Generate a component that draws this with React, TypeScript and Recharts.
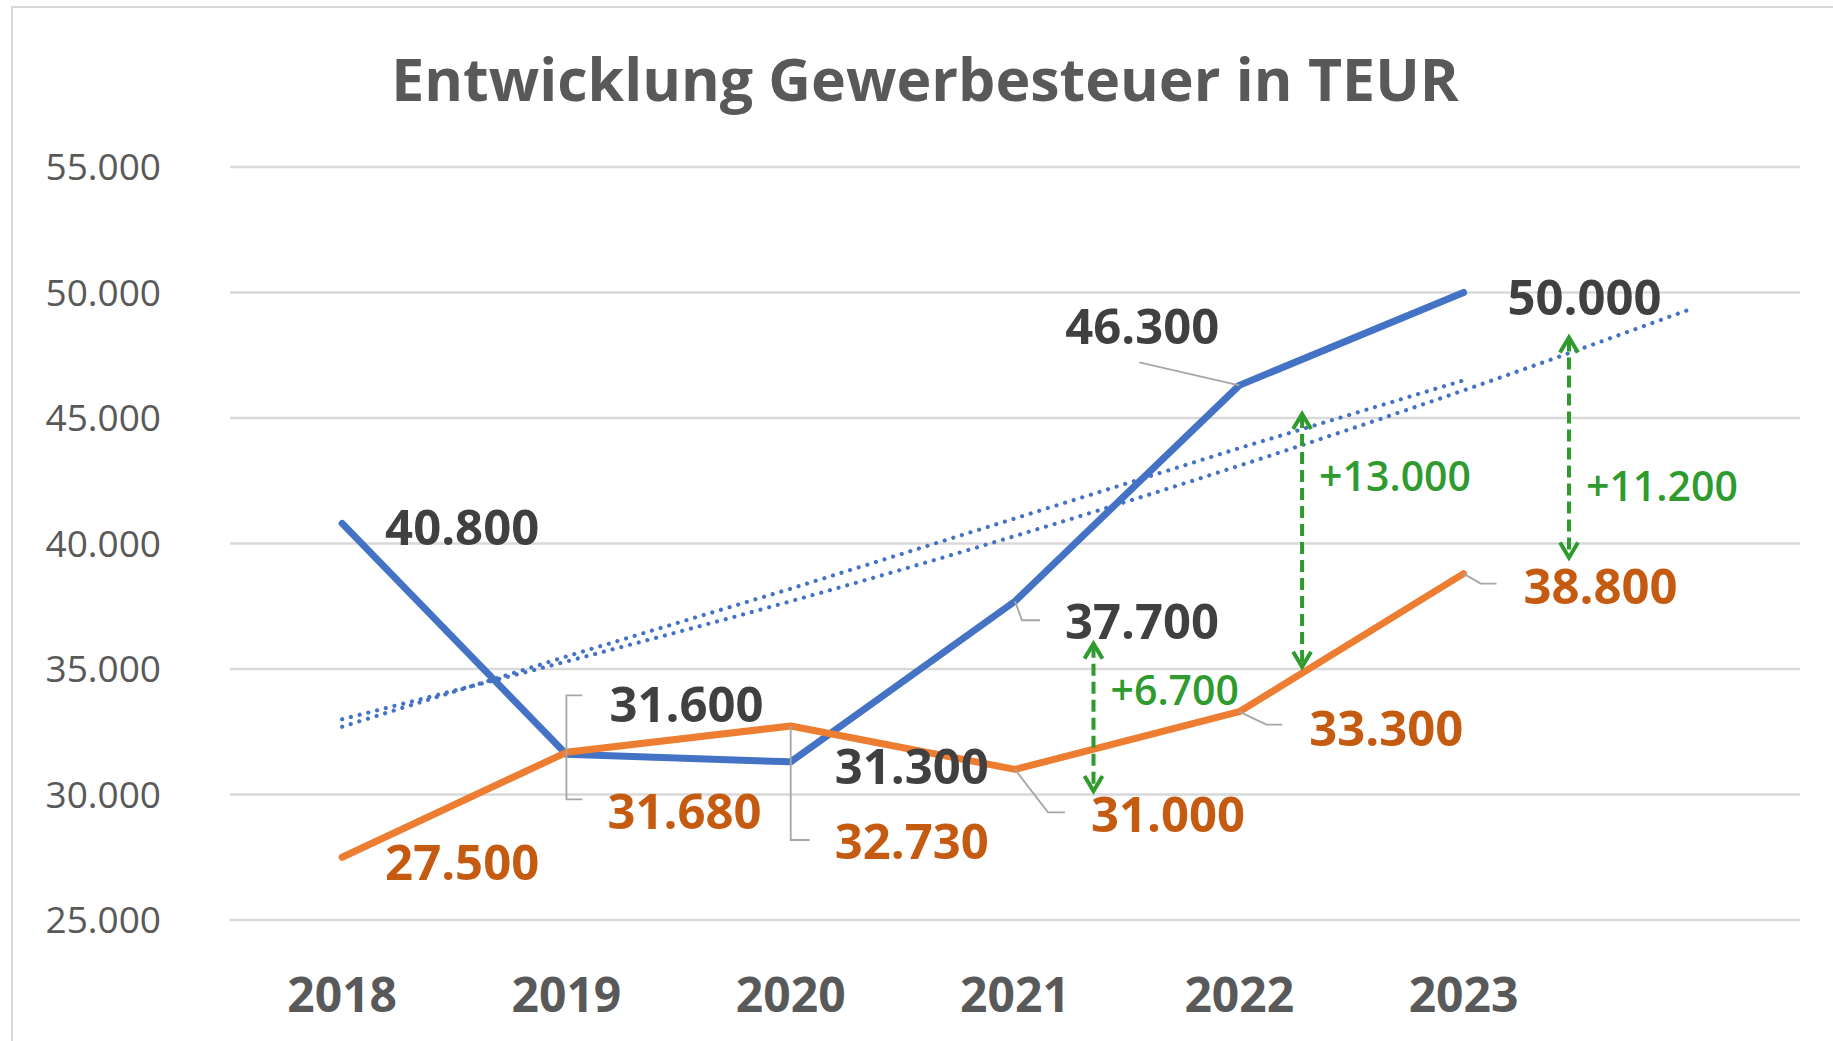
import {
	LineChart,
	Line,
	XAxis,
	YAxis,
	CartesianGrid,
	LabelList,
	ReferenceLine,
	ReferenceDot,
} from "recharts";

const years = ["2018", "2019", "2020", "2021", "2022", "2023", ""];
const istValues = [40800, 31600, 31300, 37700, 46300, 50000]; // blue
const planValues = [27500, 31680, 32730, 31000, 33300, 38800]; // orange
// trend lines (linear without forecast, exponential with one year forecast)
const linearTrend = [32700, 35500, 38200, 41000, 43800, 46500];
const expTrend = [33000, 35300, 37700, 40300, 43100, 46100, 49300];
const yTicks = [25000, 30000, 35000, 40000, 45000, 50000, 55000];

const diffArrows = [
	{ x: 3.35, top: 36050, bottom: 30100, text: "+6.700", labelY: 34150 },
	{ x: 4.28, top: 45200, bottom: 35050, text: "+13.000", labelY: 42700 },
	{ x: 5.47, top: 48250, bottom: 39400, text: "+11.200", labelY: 42300 },
];

const BLUE = "#4472C4";
const ORANGE = "#ED7D31";
const GREEN = "#2F9B2F";
const FONT = "'Open Sans', 'Noto Sans', sans-serif";

// label placement relative to the data point (px), leader = polyline points
type Pos = { dx: number; dy: number; leader?: number[][] };
const bluePos: Pos[] = [
	{ dx: 120, dy: 5 },
	{ dx: 120, dy: -49, leader: [[0, -59], [16, -59]] },
	{ dx: 121, dy: 5 },
	{ dx: 127, dy: 21, leader: [[7, 19], [25, 19]] },
	{ dx: -97, dy: -58, leader: [[-100, -23]] },
	{ dx: 121, dy: 5 },
];
const orangePos: Pos[] = [
	{ dx: 120, dy: 6 },
	{ dx: 118, dy: 60, leader: [[0, 47], [16, 47]] },
	{ dx: 121, dy: 116, leader: [[0, 114], [19, 114]] },
	{ dx: 153, dy: 46, leader: [[33, 43], [50, 43]] },
	{ dx: 147, dy: 17, leader: [[27, 13], [43, 13]] },
	{ dx: 137, dy: 13, leader: [[17, 10], [33, 10]] },
];

const fmt = (v: number) => Math.floor(v / 1000) + "." + String(v % 1000).padStart(3, "0");

const data = years.map((year, i) => ({
	x: i,
	year,
	ist: istValues[i] ?? null,
	plan: planValues[i] ?? null,
	lin: linearTrend[i] ?? null,
	exp: expTrend[i] ?? null,
}));

function makeLabel(pos: Pos[], color: string) {
	return (props: any) => {
		const vb = props.viewBox || {};
		const px = props.x ?? vb.x;
		const py = props.y ?? vb.y;
		const p = pos[props.index];
		if (!p || px == null || py == null || props.value == null) return null;
		return (
			<g>
				{p.leader && (
					<polyline
						points={[[0, 0], ...p.leader].map(([a, b]) => `${px + a},${py + b}`).join(" ")}
						fill="none"
						stroke="#A6A6A6"
						strokeWidth={1.8}
					/>
				)}
				<text
					x={px + p.dx}
					y={py + p.dy + 17}
					textAnchor="middle"
					fontSize={49}
					fontWeight={700}
					fontFamily={FONT}
					fill={color}
				>
					{fmt(Number(props.value))}
				</text>
			</g>
		);
	};
}

function ArrowShape(props: any) {
	const { x1, y1, x2, y2 } = props;
	if (x1 == null) return null;
	const top = Math.min(y1, y2);
	const bot = Math.max(y1, y2);
	return (
		<g stroke={GREEN} strokeWidth={4} fill="none">
			<line x1={x1} y1={top + 3} x2={x2} y2={bot - 3} strokeDasharray="12 6" />
			<polyline points={`${x1 - 9},${top + 16} ${x1},${top + 1} ${x1 + 9},${top + 16}`} />
			<polyline points={`${x1 - 9},${bot - 16} ${x1},${bot - 1} ${x1 + 9},${bot - 16}`} />
		</g>
	);
}

export default function App() {
	return (
		<div style={{ position: "absolute", left: 0, top: 0, width: 1833, height: 1041, overflow: "hidden", background: "#fff" }}>
			<div
				style={{
					position: "absolute",
					left: 11,
					top: 6,
					width: 1900,
					height: 1100,
					borderLeft: "2px solid #D9D9D9",
					borderTop: "2px solid #D9D9D9",
				}}
			/>
			<svg width={1833} height={1041} style={{ position: "absolute", left: 0, top: 0 }}>
				<text x={925} y={101} textAnchor="middle" fontSize={59} fontWeight={700} fontFamily={FONT} fill="#595959">
					Entwicklung Gewerbesteuer in TEUR
				</text>
			</svg>
			<div style={{ position: "absolute", left: 0, top: 0 }}>
				<LineChart width={1833} height={1041} data={data} margin={{ top: 167, right: 33, bottom: 0, left: 30 }}>
					<CartesianGrid vertical={false} stroke="#D9D9D9" strokeWidth={2.4} />
					<XAxis
						dataKey="x"
						type="number"
						domain={[-0.5, 6.5]}
						ticks={[0, 1, 2, 3, 4, 5]}
						tickFormatter={(i) => years[i]}
						axisLine={false}
						tickLine={false}
						tickSize={0}
						tickMargin={58}
						height={121}
						tick={{ fill: "#595959", fontSize: 48, fontWeight: 700, fontFamily: FONT }}
					/>
					<YAxis
						type="number"
						domain={[25000, 55000]}
						ticks={yTicks}
						tickFormatter={fmt}
						axisLine={false}
						tickLine={false}
						tickSize={0}
						tickMargin={69}
						width={200}
						tick={{ fill: "#595959", fontSize: 37, fontFamily: FONT }}
					/>
					<Line
						dataKey="exp"
						type="monotone"
						stroke={BLUE}
						strokeWidth={4.2}
						strokeDasharray="0.01 9"
						strokeLinecap="round"
						dot={false}
						isAnimationActive={false}
					/>
					<Line
						dataKey="lin"
						type="linear"
						stroke={BLUE}
						strokeWidth={4.2}
						strokeDasharray="0.01 9"
						strokeLinecap="round"
						dot={false}
						isAnimationActive={false}
					/>
					<Line
						dataKey="ist"
						type="linear"
						stroke={BLUE}
						strokeWidth={7}
						strokeLinecap="round"
						strokeLinejoin="round"
						dot={false}
						isAnimationActive={false}
					/>
					<Line
						dataKey="plan"
						type="linear"
						stroke={ORANGE}
						strokeWidth={7}
						strokeLinecap="round"
						strokeLinejoin="round"
						dot={false}
						isAnimationActive={false}
					/>
					<Line dataKey="ist" stroke="none" dot={false} activeDot={false} isAnimationActive={false}>
						<LabelList dataKey="ist" content={makeLabel(bluePos, "#404040")} />
					</Line>
					<Line dataKey="plan" stroke="none" dot={false} activeDot={false} isAnimationActive={false}>
						<LabelList dataKey="plan" content={makeLabel(orangePos, "#C55A11")} />
					</Line>
					{diffArrows.map((a) => (
						<ReferenceLine
							key={a.text}
							segment={[
								{ x: a.x, y: a.top },
								{ x: a.x, y: a.bottom },
							]}
							shape={ArrowShape}
						/>
					))}
					{diffArrows.map((a) => (
						<ReferenceDot
							key={"l" + a.text}
							x={a.x}
							y={a.labelY}
							r={0}
							shape={(p: any) => (
								<text
									x={p.cx + 17}
									y={p.cy + 15}
									fontSize={41}
									fontWeight={600}
									fontFamily={FONT}
									fill={GREEN}
								>
									{a.text}
								</text>
							)}
						/>
					))}
				</LineChart>
			</div>
		</div>
	);
}
